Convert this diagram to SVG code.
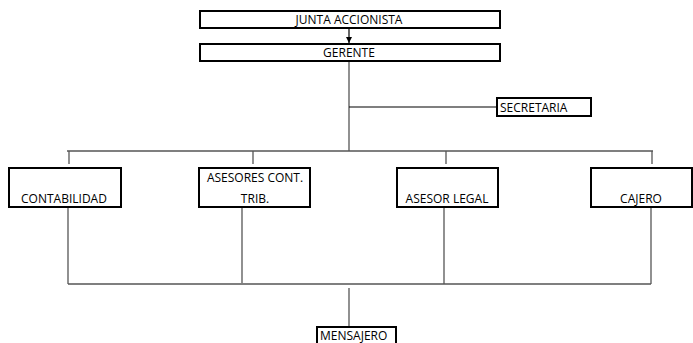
<svg xmlns="http://www.w3.org/2000/svg" width="693" height="343" viewBox="0 0 693 343">
<style>
.box{fill:#fff;stroke:#000;stroke-width:2}
.t{font-family:"Open Sans","Noto Sans",sans-serif;font-size:12px;fill:#000;text-anchor:middle}
.c{stroke:#555;stroke-width:1.3;fill:none}
.k{stroke:#000;stroke-width:1.2;fill:none}
</style>
<defs>
<marker id="ar" viewBox="0 0 10 10" refX="10" refY="5" markerWidth="6" markerHeight="6" orient="auto" markerUnits="userSpaceOnUse"><path d="M0,0L10,5L0,10z" fill="#000"/></marker>
</defs>
<g id="connectors">
<line class="k" x1="349" y1="28" x2="349" y2="43" marker-end="url(#ar)"/>
<line class="c" x1="349" y1="61" x2="349" y2="151"/>
<line class="k" x1="349" y1="107" x2="497" y2="107"/>
<line class="c" x1="67" y1="151" x2="653" y2="151"/>
<line class="c" x1="69" y1="151" x2="69" y2="164"/>
<line class="c" x1="253" y1="151" x2="253" y2="164"/>
<line class="c" x1="446" y1="151" x2="446" y2="164"/>
<line class="c" x1="652" y1="151" x2="652" y2="164"/>
<line class="c" x1="68" y1="207" x2="68" y2="284"/>
<line class="c" x1="242" y1="207" x2="242" y2="283"/>
<line class="c" x1="444" y1="207" x2="444" y2="284"/>
<line class="c" x1="651" y1="207" x2="651" y2="284"/>
<line class="c" x1="68" y1="284" x2="651" y2="284"/>
<line class="c" x1="349" y1="288" x2="349" y2="327"/>
</g>
<g id="junta"><rect class="box" x="200" y="11" width="300" height="17"/><text class="t" x="349" y="24">JUNTA ACCIONISTA</text></g>
<g id="gerente"><rect class="box" x="200" y="44" width="300" height="17"/><text class="t" x="349" y="57">GERENTE</text></g>
<g id="secretaria"><rect class="box" x="497" y="98" width="94" height="18"/><text class="t" x="500" y="112" style="text-anchor:start">SECRETARIA</text></g>
<g id="contabilidad"><rect class="box" x="9" y="168" width="112" height="39"/><text class="t" x="64" y="203">CONTABILIDAD</text></g>
<g id="asesores"><rect class="box" x="199" y="168" width="111" height="39"/><text class="t" x="255" y="182">ASESORES CONT.</text><text class="t" x="255" y="203">TRIB.</text></g>
<g id="legal"><rect class="box" x="397" y="168" width="101" height="39"/><text class="t" x="447" y="203">ASESOR LEGAL</text></g>
<g id="cajero"><rect class="box" x="591" y="168" width="101" height="39"/><text class="t" x="641" y="203">CAJERO</text></g>
<g id="mensajero"><rect class="box" x="317" y="327" width="79" height="18"/><text class="t" x="320" y="340" style="text-anchor:start">MENSAJERO</text></g>
</svg>
